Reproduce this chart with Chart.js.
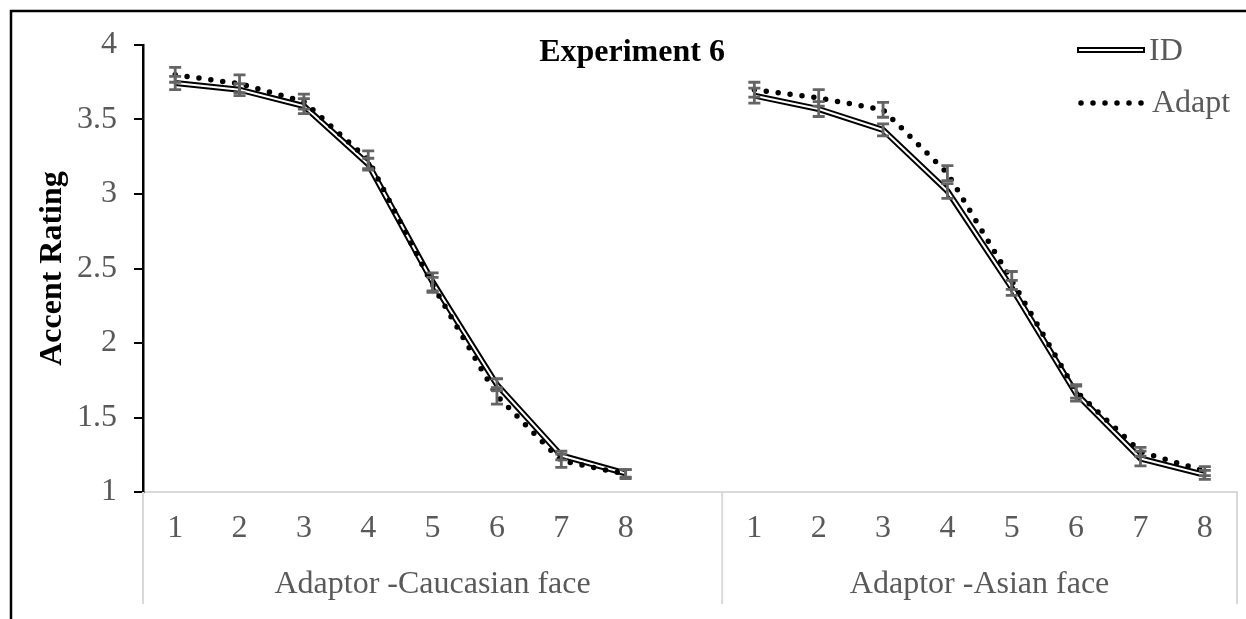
<!DOCTYPE html>
<html>
<head>
<meta charset="utf-8">
<script src="https://cdn.jsdelivr.net/npm/chart.js@4.4.1/dist/chart.umd.min.js"></script>
<style>
  html, body { margin: 0; padding: 0; background: #fff; }
  #wrap { width: 1246px; height: 619px; }
</style>
</head>
<body>
<div id="wrap"><canvas id="chart" width="1246" height="619"></canvas></div>
<script>
// -----------------------------
// Data
// -----------------------------
const levels = ['1', '2', '3', '4', '5', '6', '7', '8'];
const groups = ['Adaptor -Caucasian face', 'Adaptor -Asian face'];
const yTicks = [1, 1.5, 2, 2.5, 3, 3.5, 4];

const idCaucasian    = [3.745, 3.70, 3.59, 3.20, 2.41, 1.72, 1.245, 1.125];
const adaptCaucasian = [3.80, 3.74, 3.62, 3.23, 2.39, 1.645, 1.21, 1.12];
const idAsian        = [3.66, 3.57, 3.43, 3.02, 2.37, 1.66, 1.225, 1.115];
const adaptAsian     = [3.70, 3.645, 3.565, 3.14, 2.42, 1.675, 1.27, 1.14];

const idCaucasianErr    = [0.045, 0.04, 0.05, 0.04, 0.06, 0.04, 0.03, 0.025];
const adaptCaucasianErr = [0.05, 0.06, 0.05, 0.06, 0.05, 0.055, 0.045, 0.03];
const idAsianErr        = [0.05, 0.05, 0.04, 0.05, 0.05, 0.05, 0.05, 0.03];
const adaptAsianErr     = [0.05, 0.055, 0.05, 0.05, 0.06, 0.045, 0.03, 0.03];

// one empty category between the two groups, it belongs to the first group
const labels = [...levels, '', ...levels];
const groupSizes = [levels.length + 1, levels.length];
const idData = [...idCaucasian, null, ...idAsian];
const adaptData = [...adaptCaucasian, null, ...adaptAsian];
const idErr = [...idCaucasianErr, null, ...idAsianErr];
const adaptErr = [...adaptCaucasianErr, null, ...adaptAsianErr];

const FONT = 'Liberation Serif, Times New Roman, serif';
const GREY = '#595959';

// -----------------------------
// Error bars
// -----------------------------
const errorBars = {
  id: 'errorBars',
  afterDatasetsDraw(chart) {
    const ctx = chart.ctx;
    const y = chart.scales.y;
    chart.data.datasets.forEach((ds, i) => {
      if (!ds.errors) return;
      const meta = chart.getDatasetMeta(i);
      ctx.save();
      ctx.strokeStyle = '#646464';
      ctx.lineWidth = 2.8;
      meta.data.forEach((pt, j) => {
        const v = ds.data[j];
        const e = ds.errors[j];
        if (v == null) return;
        const top = y.getPixelForValue(v + e);
        const bot = y.getPixelForValue(v - e);
        ctx.beginPath();
        ctx.moveTo(pt.x, top); ctx.lineTo(pt.x, bot);
        ctx.moveTo(pt.x - 6, top); ctx.lineTo(pt.x + 6, top);
        ctx.moveTo(pt.x - 6, bot); ctx.lineTo(pt.x + 6, bot);
        ctx.stroke();
      });
      ctx.restore();
    });
  }
};

// -----------------------------
// Frame, title, legend, group labels
// -----------------------------
const decor = {
  id: 'decor',
  afterDraw(chart) {
    const { ctx, chartArea, scales: { x } } = chart;
    ctx.save();

    // outer frame (only top and left edges are inside the picture)
    ctx.strokeStyle = '#000';
    ctx.lineWidth = 2.5;
    ctx.beginPath();
    ctx.moveTo(11, 619); ctx.lineTo(11, 11); ctx.lineTo(1246, 11);
    ctx.stroke();

    // group dividers and labels
    const half = (x.getPixelForValue(1) - x.getPixelForValue(0)) / 2;
    const edges = [chartArea.left];
    let k = 0;
    groupSizes.forEach(n => { k += n; edges.push(x.getPixelForValue(k - 1) + half); });
    ctx.strokeStyle = '#d9d9d9';
    ctx.lineWidth = 2;
    edges.forEach(e => {
      ctx.beginPath(); ctx.moveTo(e, chartArea.bottom); ctx.lineTo(e, 604); ctx.stroke();
    });
    ctx.fillStyle = GREY;
    ctx.font = '32px ' + FONT;
    ctx.textAlign = 'center';
    ctx.textBaseline = 'middle';
    groups.forEach((g, i) => ctx.fillText(g, (edges[i] + edges[i + 1]) / 2, 585));

    // title
    ctx.fillStyle = '#000';
    ctx.font = 'bold 32px ' + FONT;
    ctx.fillText('Experiment 6', 632, 53);

    // legend
    ctx.lineCap = 'butt';
    ctx.strokeStyle = '#000'; ctx.lineWidth = 6;
    ctx.beginPath(); ctx.moveTo(1077, 50); ctx.lineTo(1145, 50); ctx.stroke();
    ctx.strokeStyle = '#fff'; ctx.lineWidth = 2;
    ctx.beginPath(); ctx.moveTo(1079, 50); ctx.lineTo(1143, 50); ctx.stroke();
    ctx.strokeStyle = '#000'; ctx.lineWidth = 5.5; ctx.lineCap = 'round';
    ctx.setLineDash([0, 12]);
    ctx.beginPath(); ctx.moveTo(1081, 103); ctx.lineTo(1145, 103); ctx.stroke();
    ctx.setLineDash([]);
    ctx.fillStyle = GREY;
    ctx.font = '32px ' + FONT;
    ctx.textAlign = 'left';
    ctx.fillText('ID', 1149, 52);
    ctx.fillText('Adapt', 1152, 104);

    ctx.restore();
  }
};

// -----------------------------
// Chart
// -----------------------------
new Chart(document.getElementById('chart'), {
  type: 'line',
  data: {
    labels: labels,
    datasets: [
      {
        label: 'Adapt',
        data: adaptData,
        errors: adaptErr,
        borderColor: '#000',
        borderWidth: 5.5,
        borderDash: [0, 12],
        borderCapStyle: 'round',
        order: 0
      },
      {
        label: 'ID inner',
        data: idData,
        borderColor: '#fff',
        borderWidth: 2,
        order: 1
      },
      {
        label: 'ID',
        data: idData,
        errors: idErr,
        borderColor: '#000',
        borderWidth: 6,
        order: 2
      }
    ]
  },
  options: {
    responsive: false,
    animation: false,
    spanGaps: false,
    layout: { padding: { left: 0, right: 9, top: 45, bottom: 0 } },
    elements: { point: { radius: 0 }, line: { tension: 0, borderJoinStyle: 'miter' } },
    plugins: { legend: { display: false }, tooltip: { enabled: false } },
    scales: {
      x: {
        offset: true,
        grid: { display: false, drawTicks: false },
        border: { color: '#d9d9d9', width: 2 },
        ticks: {
          color: GREY,
          font: { family: FONT, size: 32 },
          padding: 17,
          maxRotation: 0,
          autoSkip: false
        },
        afterFit: s => { s.height = 127; }
      },
      y: {
        min: 1,
        max: 4,
        afterBuildTicks: s => { s.ticks = yTicks.map(v => ({ value: v })); },
        grid: { drawOnChartArea: false, color: '#000', lineWidth: 2, tickLength: 9 },
        border: { color: '#000', width: 2.5 },
        ticks: {
          color: GREY,
          font: { family: FONT, size: 32 },
          padding: 17,
          callback: v => String(v)
        },
        title: {
          display: true,
          text: 'Accent Rating',
          color: '#000',
          font: { family: FONT, size: 32, weight: 'bold' },
          padding: { top: 34, bottom: 0 }
        },
        afterFit: s => { s.width = 143; }
      }
    }
  },
  plugins: [errorBars, decor]
});
</script>
</body>
</html>
